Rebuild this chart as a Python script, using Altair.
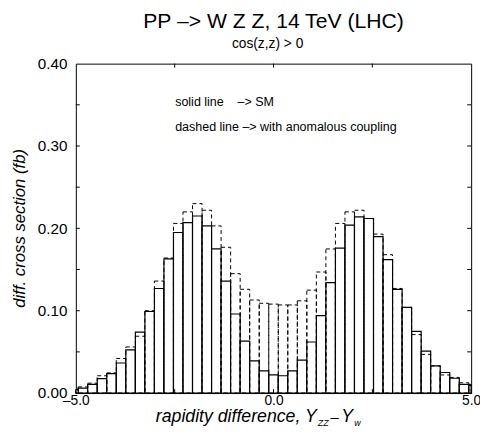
import altair as alt
import pandas as pd

# ---- data ----
SM_VALUES = [0.006, 0.0105, 0.0175, 0.0235, 0.0365, 0.0525, 0.074, 0.099, 0.127, 0.163,
             0.195, 0.207, 0.215, 0.203, 0.175, 0.136, 0.096, 0.063, 0.039, 0.027,
             0.022, 0.021, 0.027, 0.040, 0.062, 0.094, 0.134, 0.176, 0.204, 0.214,
             0.212, 0.190, 0.162, 0.126, 0.104, 0.075, 0.051, 0.033, 0.025, 0.018,
             0.0105]
ANOM_VALUES = [0.0075, 0.012, 0.021, 0.0245, 0.042, 0.056, 0.069, 0.100, 0.136, 0.164,
               0.206, 0.220, 0.230, 0.222, 0.203, 0.177, 0.145, 0.126, 0.113, 0.109,
               0.108, 0.107, 0.107, 0.112, 0.125, 0.147, 0.175, 0.206, 0.220, 0.222,
               0.212, 0.193, 0.168, 0.127, 0.104, 0.071, 0.047, 0.033, 0.022, 0.019,
               0.0125]
EDGE_SM = [0.004, 0.009]      # partial bins at the two ends
EDGE_ANOM = [0.0045, 0.0105]
BIN_WIDTH = 0.241
X_TICKS = [-2.5, 0.0, 2.5]
Y_TICKS = [0.05, 0.10, 0.15, 0.20, 0.25, 0.30, 0.35]
X_LABELS = [-5.0, 0.0, 5.0]
Y_LABELS = [0.0, 0.1, 0.2, 0.3, 0.4]

n = len(SM_VALUES)
half = n / 2.0
rows = []
for k in range(n):
    lo = (k - half) * BIN_WIDTH
    rows.append({"lo": lo, "hi": lo + BIN_WIDTH, "sm": SM_VALUES[k], "anom": ANOM_VALUES[k]})
rows.append({"lo": -5.0, "hi": -half * BIN_WIDTH, "sm": EDGE_SM[0], "anom": EDGE_ANOM[0]})
rows.append({"lo": half * BIN_WIDTH, "hi": 5.0, "sm": EDGE_SM[1], "anom": EDGE_ANOM[1]})
df = pd.DataFrame(rows)

FONT = "Liberation Sans"
W, H = 402, 335

xs = alt.Scale(domain=[-5, 5], nice=False, zero=False)
ys = alt.Scale(domain=[0, 0.4], nice=False)

xaxis = alt.Axis(values=X_LABELS, ticks=False, domain=False, grid=False, title=None,
                 labelExpr="datum.value < 0 ? '\u2013' + format(-datum.value, '.1f') : format(datum.value, '.1f')",
                 labelFont=FONT, labelFontSize=14, labelColor="black", labelPadding=1,
                 labelFlush=False, labelOverlap=False)
yaxis = alt.Axis(values=Y_LABELS, format=".2f", ticks=False, domain=False, grid=False, title=None,
                 labelFont=FONT, labelFontSize=15.5, labelColor="black", labelPadding=9,
                 labelFlush=False, labelOverlap=False)

solid = alt.Chart(df).mark_rect(fill="white", stroke="black", strokeWidth=1.2).encode(
    x=alt.X("lo:Q", scale=xs, axis=xaxis), x2="hi:Q",
    y=alt.Y("sm:Q", scale=ys, axis=yaxis), y2=alt.datum(0))

dashed = alt.Chart(df).mark_rect(fill="transparent", stroke="black", strokeWidth=1,
                                 strokeDash=[4, 3]).encode(
    x=alt.X("lo:Q", scale=xs, axis=xaxis), x2="hi:Q",
    y=alt.Y("anom:Q", scale=ys, axis=yaxis), y2=alt.datum(0))

xt = pd.DataFrame({"v": X_TICKS})
yt = pd.DataFrame({"v": Y_TICKS})
tick_style = dict(color="black", strokeWidth=1)
xt_bottom = alt.Chart(xt).mark_rule(**tick_style).encode(
    x=alt.X("v:Q", scale=xs, axis=xaxis), y=alt.value(H), y2=alt.value(H - 4))
xt_top = alt.Chart(xt).mark_rule(**tick_style).encode(
    x=alt.X("v:Q", scale=xs, axis=xaxis), y=alt.value(0), y2=alt.value(4))
yt_left = alt.Chart(yt).mark_rule(**tick_style).encode(
    y=alt.Y("v:Q", scale=ys, axis=yaxis), x=alt.value(0), x2=alt.value(4))
yt_right = alt.Chart(yt).mark_rule(**tick_style).encode(
    y=alt.Y("v:Q", scale=ys, axis=yaxis), x=alt.value(W), x2=alt.value(W - 4))


def txt(s, x, y, size, align="left", italic=False, angle=0, baseline="alphabetic"):
    kw = dict(font=FONT, fontSize=size, align=align, baseline=baseline, color="black")
    if italic:
        kw["fontStyle"] = "italic"
    if angle:
        kw["angle"] = angle
    return alt.Chart(pd.DataFrame({"t": [s]})).mark_text(**kw).encode(
        x=alt.value(x), y=alt.value(y), text="t:N")


NB = "\u00a0"
texts = [
    txt("PP \u2013> W Z Z, 14 TeV (LHC)", W / 2, -36, 21.5, align="center"),
    txt("cos(z,z) > 0", 195, -16, 14, align="center"),
    txt("solid line" + NB * 4 + "\u2013> SM", 101, 43, 12.7),
    txt("dashed line \u2013> with anomalous coupling", 101, 68, 12.7),
    txt("diff. cross section (fb)", -57, H / 2, 17, align="center", italic=True,
        angle=270, baseline="middle"),
    txt("rapidity difference, Y", 245, 364, 18, align="right", italic=True),
    txt("ZZ", 246, 368, 9, italic=True),
    txt("\u2013", 259, 364, 15),
    txt("Y", 270, 364, 18, italic=True),
    txt("w", 283, 368, 9, italic=True),
]

chart = alt.layer(solid, dashed, xt_bottom, xt_top, yt_left, yt_right, *texts).properties(
    width=W, height=H,
    padding={"left": 69, "top": 53, "right": 9, "bottom": 35},
    autosize=alt.AutoSizeParams(type="none"),
).configure(background="white").configure_view(stroke="black", strokeWidth=1)

chart.save("out.html", embed_options={"renderer": "svg", "actions": False})
